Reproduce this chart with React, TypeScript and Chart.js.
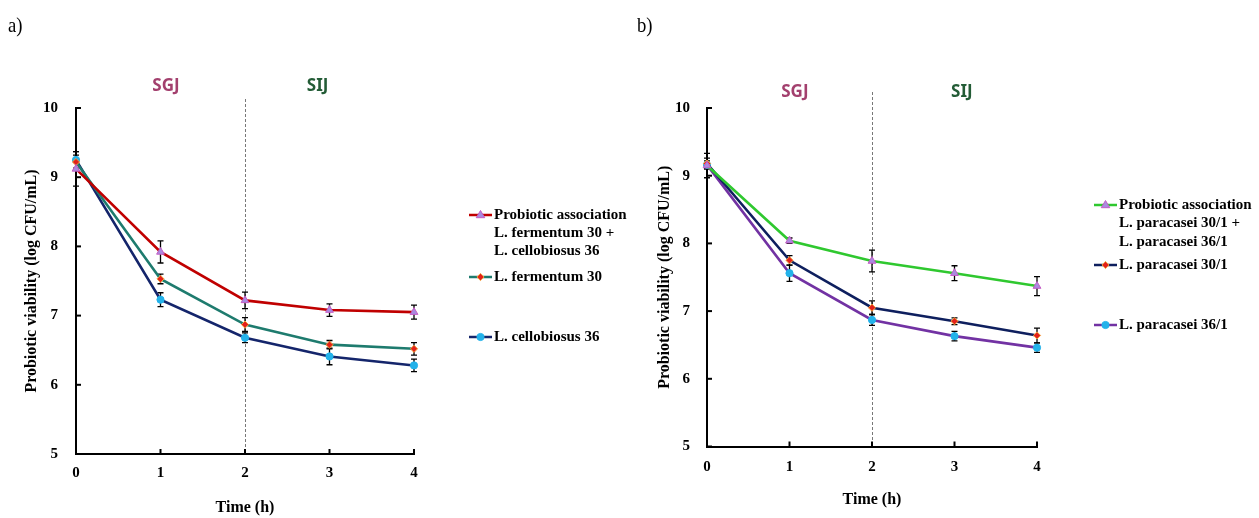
import React, { useEffect, useRef } from 'react';
import { Chart, registerables } from 'chart.js';

Chart.register(...registerables);

// ---------- shared ----------
const TIME_H = [0, 1, 2, 3, 4];
const Y_MIN = 5;
const Y_MAX = 10;
const PHASE_NAMES = ['SGJ', 'SIJ'];
const PHASE_COLORS = ['#A3406E', '#235C36'];
const PHASE_BOUNDARY = 2;
const X_TITLE = 'Time (h)';
const Y_TITLE = 'Probiotic viability (log CFU/mL)';

// ---------- panel a ----------
const A_ASSOC_LABEL = ['Probiotic association', 'L. fermentum 30 +', 'L. cellobiosus 36'];
const A_ASSOC = [9.12, 7.92, 7.22, 7.08, 7.05];
const A_ASSOC_ERR = [0.25, 0.16, 0.12, 0.09, 0.1];
const A_FERM_LABEL = ['L. fermentum 30'];
const A_FERM = [9.22, 7.53, 6.87, 6.58, 6.52];
const A_FERM_ERR = [0.1, 0.07, 0.1, 0.06, 0.09];
const A_CELLO_LABEL = ['L. cellobiosus 36'];
const A_CELLO = [9.25, 7.23, 6.68, 6.41, 6.28];
const A_CELLO_ERR = [0.12, 0.1, 0.07, 0.12, 0.09];

// ---------- panel b ----------
const B_ASSOC_LABEL = ['Probiotic association', 'L. paracasei 30/1 +', 'L. paracasei 36/1'];
const B_ASSOC = [9.15, 8.04, 7.74, 7.56, 7.37];
const B_ASSOC_ERR = [0.18, 0.04, 0.16, 0.11, 0.14];
const B_P30_LABEL = ['L. paracasei 30/1'];
const B_P30 = [9.18, 7.75, 7.05, 6.85, 6.64];
const B_P30_ERR = [0.08, 0.07, 0.1, 0.05, 0.11];
const B_P36_LABEL = ['L. paracasei 36/1'];
const B_P36 = [9.16, 7.56, 6.87, 6.63, 6.46];
const B_P36_ERR = [0.06, 0.12, 0.08, 0.07, 0.07];

type Series = {
  label: string[];
  data: number[];
  err: number[];
  color: string;
  style: string;
  fill: string;
  stroke: string;
  radius: number;
};

type PanelCfg = {
  left: number;
  width: number;
  series: Series[];
  padRight: number;
  padTop: number;
  yWidth: number;
  xHeight: number;
  yTitlePad: number;
  yTickPad: number;
  xTickPad: number;
  xTitlePad: number;
  dashTop: number;
  phaseX: number[];
  phaseY: number;
  legendX: number;
  legendRows: number[][];
};

const TRI = { style: 'triangle', fill: '#A98BE0', stroke: '#C45CC4', radius: 4.5 };
const DIA = { style: 'rectRot', fill: '#E3201B', stroke: '#F3A13A', radius: 3.6 };
const CIR = { style: 'circle', fill: '#23B2EA', stroke: '#23B2EA', radius: 3.6 };

const PANEL_A: PanelCfg = {
  left: 0,
  width: 630,
  series: [
    { label: A_ASSOC_LABEL, data: A_ASSOC, err: A_ASSOC_ERR, color: '#C00000', ...TRI },
    { label: A_FERM_LABEL, data: A_FERM, err: A_FERM_ERR, color: '#1E7B6E', ...DIA },
    { label: A_CELLO_LABEL, data: A_CELLO, err: A_CELLO_ERR, color: '#14256B', ...CIR },
  ],
  padRight: 216,
  padTop: 108,
  yWidth: 76,
  xHeight: 64,
  yTitlePad: 22.4,
  yTickPad: 18,
  xTickPad: 10,
  xTitlePad: 0.4,
  dashTop: 99,
  phaseX: [1.065, 2.86],
  phaseY: 86,
  legendX: 469,
  legendRows: [[215, 233, 251], [277], [337]],
};

const PANEL_B: PanelCfg = {
  left: 630,
  width: 629,
  series: [
    { label: B_ASSOC_LABEL, data: B_ASSOC, err: B_ASSOC_ERR, color: '#2FC82F', ...TRI },
    { label: B_P30_LABEL, data: B_P30, err: B_P30_ERR, color: '#0E1F5E', ...DIA },
    { label: B_P36_LABEL, data: B_P36, err: B_P36_ERR, color: '#7232A3', ...CIR },
  ],
  padRight: 222,
  padTop: 108,
  yWidth: 77,
  xHeight: 71.5,
  yTitlePad: 25.4,
  yTickPad: 17,
  xTickPad: 11.5,
  xTitlePad: 8.4,
  dashTop: 92,
  phaseX: [1.065, 3.09],
  phaseY: 92,
  legendX: 464,
  legendRows: [[205, 223, 242], [265], [325]],
};

const SERIF = '"Liberation Serif", "Times New Roman", serif';

function drawMarker(ctx: CanvasRenderingContext2D, s: Series, x: number, y: number) {
  const r = s.radius;
  ctx.save();
  ctx.fillStyle = s.fill;
  ctx.strokeStyle = s.stroke;
  ctx.lineWidth = 1;
  ctx.beginPath();
  if (s.style === 'triangle') {
    ctx.moveTo(x, y - r);
    ctx.lineTo(x + r * 0.95, y + r * 0.6);
    ctx.lineTo(x - r * 0.95, y + r * 0.6);
    ctx.closePath();
  } else if (s.style === 'rectRot') {
    ctx.moveTo(x, y - r);
    ctx.lineTo(x + r, y);
    ctx.lineTo(x, y + r);
    ctx.lineTo(x - r, y);
    ctx.closePath();
  } else {
    ctx.arc(x, y, r, 0, Math.PI * 2);
  }
  ctx.fill();
  ctx.stroke();
  ctx.restore();
}

function makePlugin(cfg: PanelCfg) {
  return {
    id: 'decor',
    beforeDatasetsDraw(chart: any) {
      const ctx: CanvasRenderingContext2D = chart.ctx;
      const xs = chart.scales.x;
      const ys = chart.scales.y;
      const area = chart.chartArea;
      // dashed phase boundary
      ctx.save();
      ctx.strokeStyle = '#555';
      ctx.lineWidth = 0.8;
      ctx.setLineDash([3, 2]);
      const bx = Math.round(xs.getPixelForValue(PHASE_BOUNDARY)) + 0.5;
      ctx.beginPath();
      ctx.moveTo(bx, cfg.dashTop);
      ctx.lineTo(bx, area.bottom);
      ctx.stroke();
      ctx.restore();
      // error bars
      ctx.save();
      ctx.strokeStyle = '#000';
      ctx.lineWidth = 1.3;
      cfg.series.forEach((s, i) => {
        const meta = chart.getDatasetMeta(i);
        s.data.forEach((v, j) => {
          const pt = meta.data[j];
          if (!pt) return;
          const x = pt.x;
          const yt = ys.getPixelForValue(v + s.err[j]);
          const yb = ys.getPixelForValue(v - s.err[j]);
          ctx.beginPath();
          ctx.moveTo(x, yt);
          ctx.lineTo(x, yb);
          ctx.moveTo(x - 3, yt);
          ctx.lineTo(x + 3, yt);
          ctx.moveTo(x - 3, yb);
          ctx.lineTo(x + 3, yb);
          ctx.stroke();
        });
      });
      ctx.restore();
    },
    afterDraw(chart: any) {
      const ctx: CanvasRenderingContext2D = chart.ctx;
      const xs = chart.scales.x;
      const ys = chart.scales.y;
      const area = chart.chartArea;
      // inward tick marks
      ctx.save();
      ctx.strokeStyle = '#000';
      ctx.lineWidth = 2;
      ys.ticks.forEach((t: any) => {
        const y = ys.getPixelForValue(t.value);
        ctx.beginPath();
        ctx.moveTo(area.left, y);
        ctx.lineTo(area.left + 5, y);
        ctx.stroke();
      });
      xs.ticks.forEach((t: any) => {
        const x = xs.getPixelForValue(t.value);
        ctx.beginPath();
        ctx.moveTo(x, area.bottom);
        ctx.lineTo(x, area.bottom - 5);
        ctx.stroke();
      });
      ctx.restore();
      // phase labels
      ctx.save();
      ctx.font = 'bold 17px "Noto Sans", sans-serif';
      ctx.textAlign = 'center';
      ctx.textBaseline = 'middle';
      PHASE_NAMES.forEach((name, i) => {
        ctx.fillStyle = PHASE_COLORS[i];
        ctx.fillText(name, xs.getPixelForValue(cfg.phaseX[i]), cfg.phaseY);
      });
      ctx.restore();
      // legend
      ctx.save();
      ctx.font = 'bold 15px ' + SERIF;
      ctx.textBaseline = 'middle';
      ctx.textAlign = 'left';
      cfg.series.forEach((s, i) => {
        const rows = cfg.legendRows[i];
        const y0 = rows[0];
        ctx.strokeStyle = s.color;
        ctx.lineWidth = 2.5;
        ctx.beginPath();
        ctx.moveTo(cfg.legendX, y0);
        ctx.lineTo(cfg.legendX + 23, y0);
        ctx.stroke();
        drawMarker(ctx, s, cfg.legendX + 11.5, y0);
        ctx.fillStyle = '#000';
        s.label.forEach((line, k) => {
          ctx.fillText(line, cfg.legendX + 25, rows[k]);
        });
      });
      ctx.restore();
    },
  };
}

function Panel({ cfg }: { cfg: PanelCfg }) {
  const ref = useRef<HTMLCanvasElement>(null);
  useEffect(() => {
    if (!ref.current) return;
    const chart = new Chart(ref.current, {
      type: 'line',
      data: {
        datasets: cfg.series.map((s) => ({
          label: s.label.join(' '),
          data: s.data.map((v, j) => ({ x: TIME_H[j], y: v })),
          borderColor: s.color,
          borderWidth: 2.6,
          pointStyle: s.style as any,
          pointRadius: s.radius,
          pointBackgroundColor: s.fill,
          pointBorderColor: s.stroke,
          pointBorderWidth: 1,
          tension: 0,
          clip: false as any,
        })),
      },
      options: {
        animation: false,
        responsive: false,
        maintainAspectRatio: false,
        layout: { padding: { left: 0, right: cfg.padRight, top: cfg.padTop, bottom: 0 } },
        plugins: { legend: { display: false }, tooltip: { enabled: false } },
        scales: {
          x: {
            type: 'linear',
            min: 0,
            max: 4,
            ticks: {
              stepSize: 1,
              padding: cfg.xTickPad,
              color: '#000',
              font: { family: SERIF, size: 15, weight: 'bold', lineHeight: 1.2 },
            },
            grid: { display: false, drawTicks: false },
            border: { display: true, color: '#000', width: 2 },
            title: {
              display: true,
              text: X_TITLE,
              color: '#000',
              padding: { top: 0, bottom: cfg.xTitlePad },
              font: { family: SERIF, size: 16, weight: 'bold', lineHeight: 1.2 },
            },
            afterFit: (scale: any) => {
              scale.height = cfg.xHeight;
            },
          },
          y: {
            type: 'linear',
            min: Y_MIN,
            max: Y_MAX,
            ticks: {
              stepSize: 1,
              padding: cfg.yTickPad,
              color: '#000',
              font: { family: SERIF, size: 15, weight: 'bold', lineHeight: 1.2 },
            },
            grid: { display: false, drawTicks: false },
            border: { display: true, color: '#000', width: 2 },
            title: {
              display: true,
              text: Y_TITLE,
              color: '#000',
              padding: { top: cfg.yTitlePad, bottom: 0 },
              font: { family: SERIF, size: 16, weight: 'bold', lineHeight: 1.2 },
            },
            afterFit: (scale: any) => {
              scale.width = cfg.yWidth;
            },
          },
        },
      } as any,
      plugins: [makePlugin(cfg)],
    });
    return () => chart.destroy();
  }, [cfg]);
  return (
    <canvas
      ref={ref}
      width={cfg.width}
      height={518}
      style={{ position: 'absolute', left: cfg.left, top: 0, width: cfg.width, height: 518 }}
    />
  );
}

export default function App() {
  const tag: React.CSSProperties = {
    position: 'absolute',
    top: 12,
    fontFamily: SERIF,
    fontSize: 22,
    lineHeight: '26px',
    color: '#000',
    transform: 'scaleX(0.85)',
    transformOrigin: 'left center',
  };
  return (
    <div style={{ position: 'absolute', left: 0, top: 0, width: 1259, height: 518, background: '#fff', overflow: 'hidden' }}>
      <Panel cfg={PANEL_A} />
      <Panel cfg={PANEL_B} />
      <span style={{ ...tag, left: 8 }}>a)</span>
      <span style={{ ...tag, left: 637 }}>b)</span>
    </div>
  );
}
